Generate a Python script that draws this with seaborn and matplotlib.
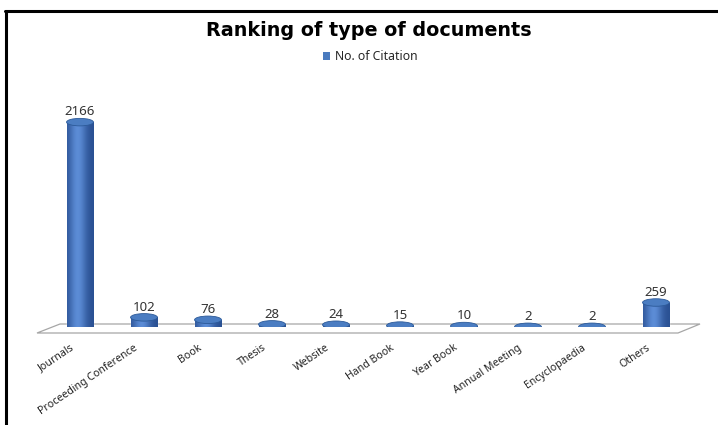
import numpy as np
import matplotlib
matplotlib.use("Agg")
import matplotlib.pyplot as plt
import matplotlib.transforms as mtransforms
from matplotlib.patches import Ellipse, Polygon, Patch
from matplotlib.lines import Line2D
import seaborn as sns

# Citation counts by document type
categories = ["Journals", "Proceeding Conference", "Book", "Thesis", "Website",
              "Hand Book", "Year Book", "Annual Meeting", "Encyclopaedia", "Others"]
citations = [2166, 102, 76, 28, 24, 15, 10, 2, 2, 259]
series_name = "No. of Citation"
title = "Ranking of type of documents"

sns.set_theme(style="white")
plt.rcParams["font.family"] = ["Noto Sans", "DejaVu Sans"]

W, H = 718, 425
DPI = 100
fig = plt.figure(figsize=(W / DPI, H / DPI), dpi=DPI)
fig.patch.set_facecolor("white")


def px(x, y):
    """Pixel position (origin top-left) to figure fraction."""
    return x / W, 1 - y / H


# axes: category i sits at 80 + 64*i px, value 0 at y=327 px
YMAX = 2400
ax_left, ax_bottom = px(48, 327)
ax_right, ax_top = px(688, 100)
ax = fig.add_axes([ax_left, ax_bottom, ax_right - ax_left, ax_top - ax_bottom])
ax.patch.set_visible(False)

BAR_COLOR = "#4a7bbf"
BAR_W = 0.42
sns.barplot(x=categories, y=citations, color=BAR_COLOR, width=BAR_W,
            ax=ax, zorder=3)

ax.set_xlim(-0.5, len(categories) - 0.5)
ax.set_ylim(0, YMAX)

# cap height: 7.5 px expressed in value units
px_per_unit = (327 - 100) / YMAX
cap_h = 7.5 / px_per_unit

# horizontal shading for the cylinder body
grad_x = np.linspace(0, 1, 64)
t = np.exp(-((grad_x - 0.40) / 0.32) ** 2)
dark = np.array([0.16, 0.31, 0.57])
light = np.array([0.36, 0.55, 0.84])
grad = dark[None, :] + (light - dark)[None, :] * t[:, None]
grad_img = grad[None, :, :]

for patch, val in zip(list(ax.patches), citations):
    x0 = patch.get_x()
    w = patch.get_width()
    cx = x0 + w / 2
    h = patch.get_height()
    # shaded body clipped to the bar
    if h > 0:
        im = ax.imshow(grad_img, extent=[x0, x0 + w, 0, h], aspect="auto",
                       zorder=3.5, interpolation="bilinear")
        im.set_clip_path(patch)
    # lower rim, shaded the same way
    bot = Ellipse((cx, 0), w, cap_h, facecolor="none", edgecolor="none", zorder=3.6)
    ax.add_patch(bot)
    im2 = ax.imshow(grad_img, extent=[x0, x0 + w, -cap_h / 2, 0], aspect="auto",
                    zorder=3.6, interpolation="bilinear")
    im2.set_clip_path(bot)
    # top cap
    ax.add_patch(Ellipse((cx, h), w, cap_h, facecolor="#4b7dc2",
                         edgecolor="#2c5a99", linewidth=0.6, zorder=4))
    ax.annotate(f"{val}", (cx, h + cap_h / 2), xytext=(0, 0),
                textcoords="offset points", ha="center", va="bottom",
                fontsize=9.5, color="#333333", zorder=5)

ax.set_ylim(0, YMAX)
ax.set_xlim(-0.5, len(categories) - 0.5)
ax.set_xticks([])
ax.set_yticks([])
ax.set_xlabel("")
ax.set_ylabel("")
for s in ax.spines.values():
    s.set_visible(False)

# rotated category labels below the floor
lab_off = mtransforms.ScaledTranslation(-7 / DPI, -20 / DPI, fig.dpi_scale_trans)
for i, name in enumerate(categories):
    ax.text(i, 0, name, transform=ax.transData + lab_off, rotation=34,
            rotation_mode="anchor", ha="right", va="center",
            fontsize=7.6, color="#222222", clip_on=False)

# floor of the plot area
floor = Polygon([px(37, 333), px(60, 324), px(700, 324), px(678, 333)],
                closed=True, transform=fig.transFigure, facecolor="white",
                edgecolor="#a6a6a6", linewidth=0.9, zorder=-1)
fig.add_artist(floor)

# title and legend
fig.text(*px(369, 31), title, ha="center", va="center",
         fontsize=13.8, fontweight="bold", color="black",
         family=["DejaVu Sans"])
fig.legend(handles=[Patch(facecolor=BAR_COLOR, edgecolor="none", label=series_name)],
           loc="center", bbox_to_anchor=px(370, 57), frameon=False,
           fontsize=8.8, handlelength=0.6, handleheight=0.6, handletextpad=0.4,
           borderaxespad=0, borderpad=0)

# frame edges at the top and left
fig.add_artist(Line2D([px(5, 11)[0], 1], [px(5, 11)[1]] * 2,
                      transform=fig.transFigure, color="black", linewidth=2.2))
fig.add_artist(Line2D([px(6, 11)[0]] * 2, [px(6, 11)[1], 0],
                      transform=fig.transFigure, color="black", linewidth=2.2))

fig.savefig("out.png", dpi=DPI)
